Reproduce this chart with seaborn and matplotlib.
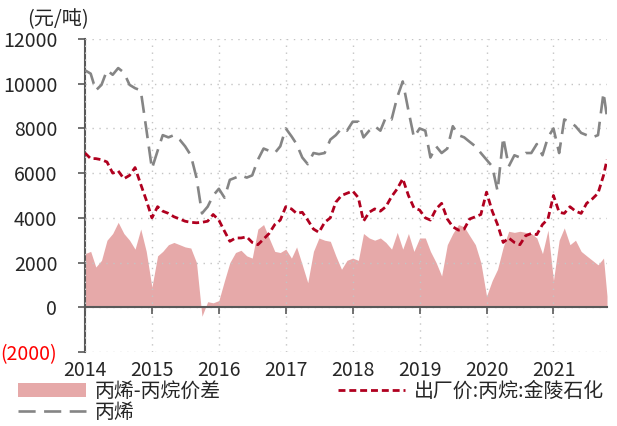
import numpy as np
import pandas as pd
import matplotlib
matplotlib.use("Agg")
import matplotlib.pyplot as plt
import seaborn as sns

# ---------------- data ----------------
dates = list(pd.date_range("2014-01-01", "2021-10-01", freq="MS")) + [pd.Timestamp("2021-10-20")]

propylene = [
    10600, 10450, 9700, 9950, 10600, 10400, 10700, 10500, 9950, 9800, 9700, 8000,   # 2014
    6200, 7000, 7700, 7600, 7700, 7500, 7200, 6800, 5800, 4200, 4500, 5000,         # 2015
    5300, 4900, 5700, 5800, 5900, 5800, 5900, 6600, 7100, 7000, 6900, 7200,         # 2016
    8000, 7650, 7300, 6700, 6400, 6900, 6850, 6900, 7500, 7700, 8000, 7900,         # 2017
    8300, 8300, 7600, 7900, 8100, 7900, 8500, 8400, 9400, 10100, 8800, 7600,        # 2018
    8000, 7900, 6700, 7200, 6900, 7100, 8100, 7700, 7600, 7400, 7200, 6900,         # 2019
    6600, 6300, 5200, 7600, 6300, 6800, 6700, 6900, 6900, 7300, 6800, 7600,         # 2020
    8000, 6900, 8400, 8300, 8100, 7800, 7700, 7600, 7700, 9600, 8500,               # 2021
]
propane = [
    6900, 6650, 6650, 6600, 6500, 6000, 6100, 5750, 5900, 6250, 5500, 4800,         # 2014
    4000, 4500, 4300, 4200, 4050, 3950, 3850, 3800, 3780, 3800, 3850, 4150,         # 2015
    3900, 3400, 2950, 3100, 3100, 3150, 2900, 2800, 3050, 3300, 3700, 3900,         # 2016
    4500, 4400, 4200, 4250, 3900, 3500, 3350, 3800, 4000, 4700, 5000, 5100,         # 2017
    5200, 4900, 3850, 4250, 4400, 4300, 4500, 4950, 5300, 5750, 5000, 4450,         # 2018
    4350, 4000, 3900, 4400, 4650, 3950, 3600, 3450, 3500, 3950, 4050, 4150,         # 2019
    5150, 4300, 3700, 2900, 3100, 2900, 2800, 3200, 3300, 3250, 3700, 3950,         # 2020
    5000, 4250, 4200, 4500, 4300, 4200, 4650, 4850, 5100, 5900, 6600,               # 2021
]
spread = [
    2400, 2500, 1800, 2100, 3000, 3300, 3800, 3300, 3000, 2600, 3500, 2500,         # 2014
    900, 2300, 2500, 2800, 2900, 2800, 2700, 2650, 2000, -400, 250, 200,            # 2015
    300, 1200, 2000, 2450, 2550, 2300, 2200, 3500, 3700, 3100, 2500, 2450,          # 2016
    2600, 2200, 2700, 1900, 1100, 2500, 3100, 3000, 2950, 2300, 1700, 2100,         # 2017
    2200, 2100, 3300, 3100, 3000, 3100, 2900, 2600, 3350, 2600, 3300, 2500,         # 2018
    3100, 3100, 2500, 2000, 1400, 2800, 3300, 3700, 3600, 3200, 2800, 2000,         # 2019
    500, 1200, 1700, 2700, 3400, 3350, 3400, 3350, 3300, 3100, 2400, 3450,          # 2020
    1200, 3000, 3550, 2800, 3000, 2500, 2300, 2100, 1900, 2200, 500,                # 2021
]

year_ticks = [2014, 2015, 2016, 2017, 2018, 2019, 2020, 2021]
year_labels = ["2014", "2015", "2016", "2017", "2018", "2019", "2020", "2021"]
y_ticks = [-2000, 0, 2000, 4000, 6000, 8000, 10000, 12000]
y_labels = ["(2000)", "0", "2000", "4000", "6000", "8000", "10000", "12000"]

name_spread = "丙烯-丙烷价差"
name_propylene = "丙烯"
name_propane = "出厂价:丙烷:金陵石化"
unit_label = "(元/吨)"

# ---------------- style ----------------
sns.set_style("white")
plt.rcParams["font.family"] = ["Noto Sans CJK SC", "DejaVu Sans"]
plt.rcParams["axes.unicode_minus"] = False

c_fill = "#E6A9A9"
c_red = "#B0001F"
c_grey = "#858585"
c_axis = "#595959"
c_grid = "#C4C4C4"

dt = pd.DatetimeIndex(dates)
x = dt.year + (dt.dayofyear - 1) / 365.0
df = pd.DataFrame({"x": x, "propylene": propylene, "propane": propane, "spread": spread})

fig = plt.figure(figsize=(6.17, 4.26), dpi=100)
ax = fig.add_axes([85 / 617, 1 - 352 / 426, (607 - 85) / 617, (352 - 39) / 426])

ax.fill_between(df["x"], df["spread"], 0, color=c_fill, lw=0, zorder=1, label=name_spread)
sns.lineplot(data=df, x="x", y="propylene", ax=ax, color=c_grey, lw=1.9,
             linestyle=(0, (6.5, 3.2)), zorder=3, label=name_propylene)
sns.lineplot(data=df, x="x", y="propane", ax=ax, color=c_red, lw=2.0,
             linestyle=(0, (2.5, 1.4)), zorder=3, label=name_propane)

ax.set_xlim(2014, 2021.8)
ax.set_ylim(-2000, 12000)
ax.set_xticks(year_ticks)
ax.set_xticklabels(year_labels)
ax.set_yticks(y_ticks)
ax.set_yticklabels(y_labels)
for lab in ax.get_yticklabels():
    if lab.get_text().startswith("("):
        lab.set_color("#FF0000")
ax.set_xlabel("")
ax.set_ylabel("")

ax.set_axisbelow(False)
ax.grid(True, color=c_grid, linestyle=(0, (1, 4)), lw=1.0, zorder=2)

for s in ["top", "right"]:
    ax.spines[s].set_visible(False)
ax.spines["left"].set_color(c_axis)
ax.spines["left"].set_linewidth(1.5)
ax.spines["bottom"].set_position(("data", 0))
ax.spines["bottom"].set_color(c_axis)
ax.spines["bottom"].set_linewidth(1.5)
ax.spines["bottom"].set_zorder(4)

ax.tick_params(axis="y", direction="out", length=5, width=1.2, color=c_axis,
               labelsize=14, pad=15, left=True)
ax.tick_params(axis="x", direction="out", length=5, width=1.2, color=c_axis,
               labelsize=14, pad=33, bottom=True)

if ax.get_legend():
    ax.get_legend().remove()

handles, labels = ax.get_legend_handles_labels()
order = [labels.index(name_spread), labels.index(name_propylene), labels.index(name_propane)]
fig.legend([handles[i] for i in order], [labels[i] for i in order],
           loc="upper left", bbox_to_anchor=(18 / 617, 1 - 381 / 426), ncol=2,
           frameon=False, fontsize=14.3, handlelength=3.4, handletextpad=0.45,
           columnspacing=5.9, labelspacing=0.0, borderaxespad=0, borderpad=0)

fig.text(27 / 617, 1 - 20 / 426, unit_label, fontsize=14.5, va="center", ha="left")

fig.savefig("out.png", dpi=100)
